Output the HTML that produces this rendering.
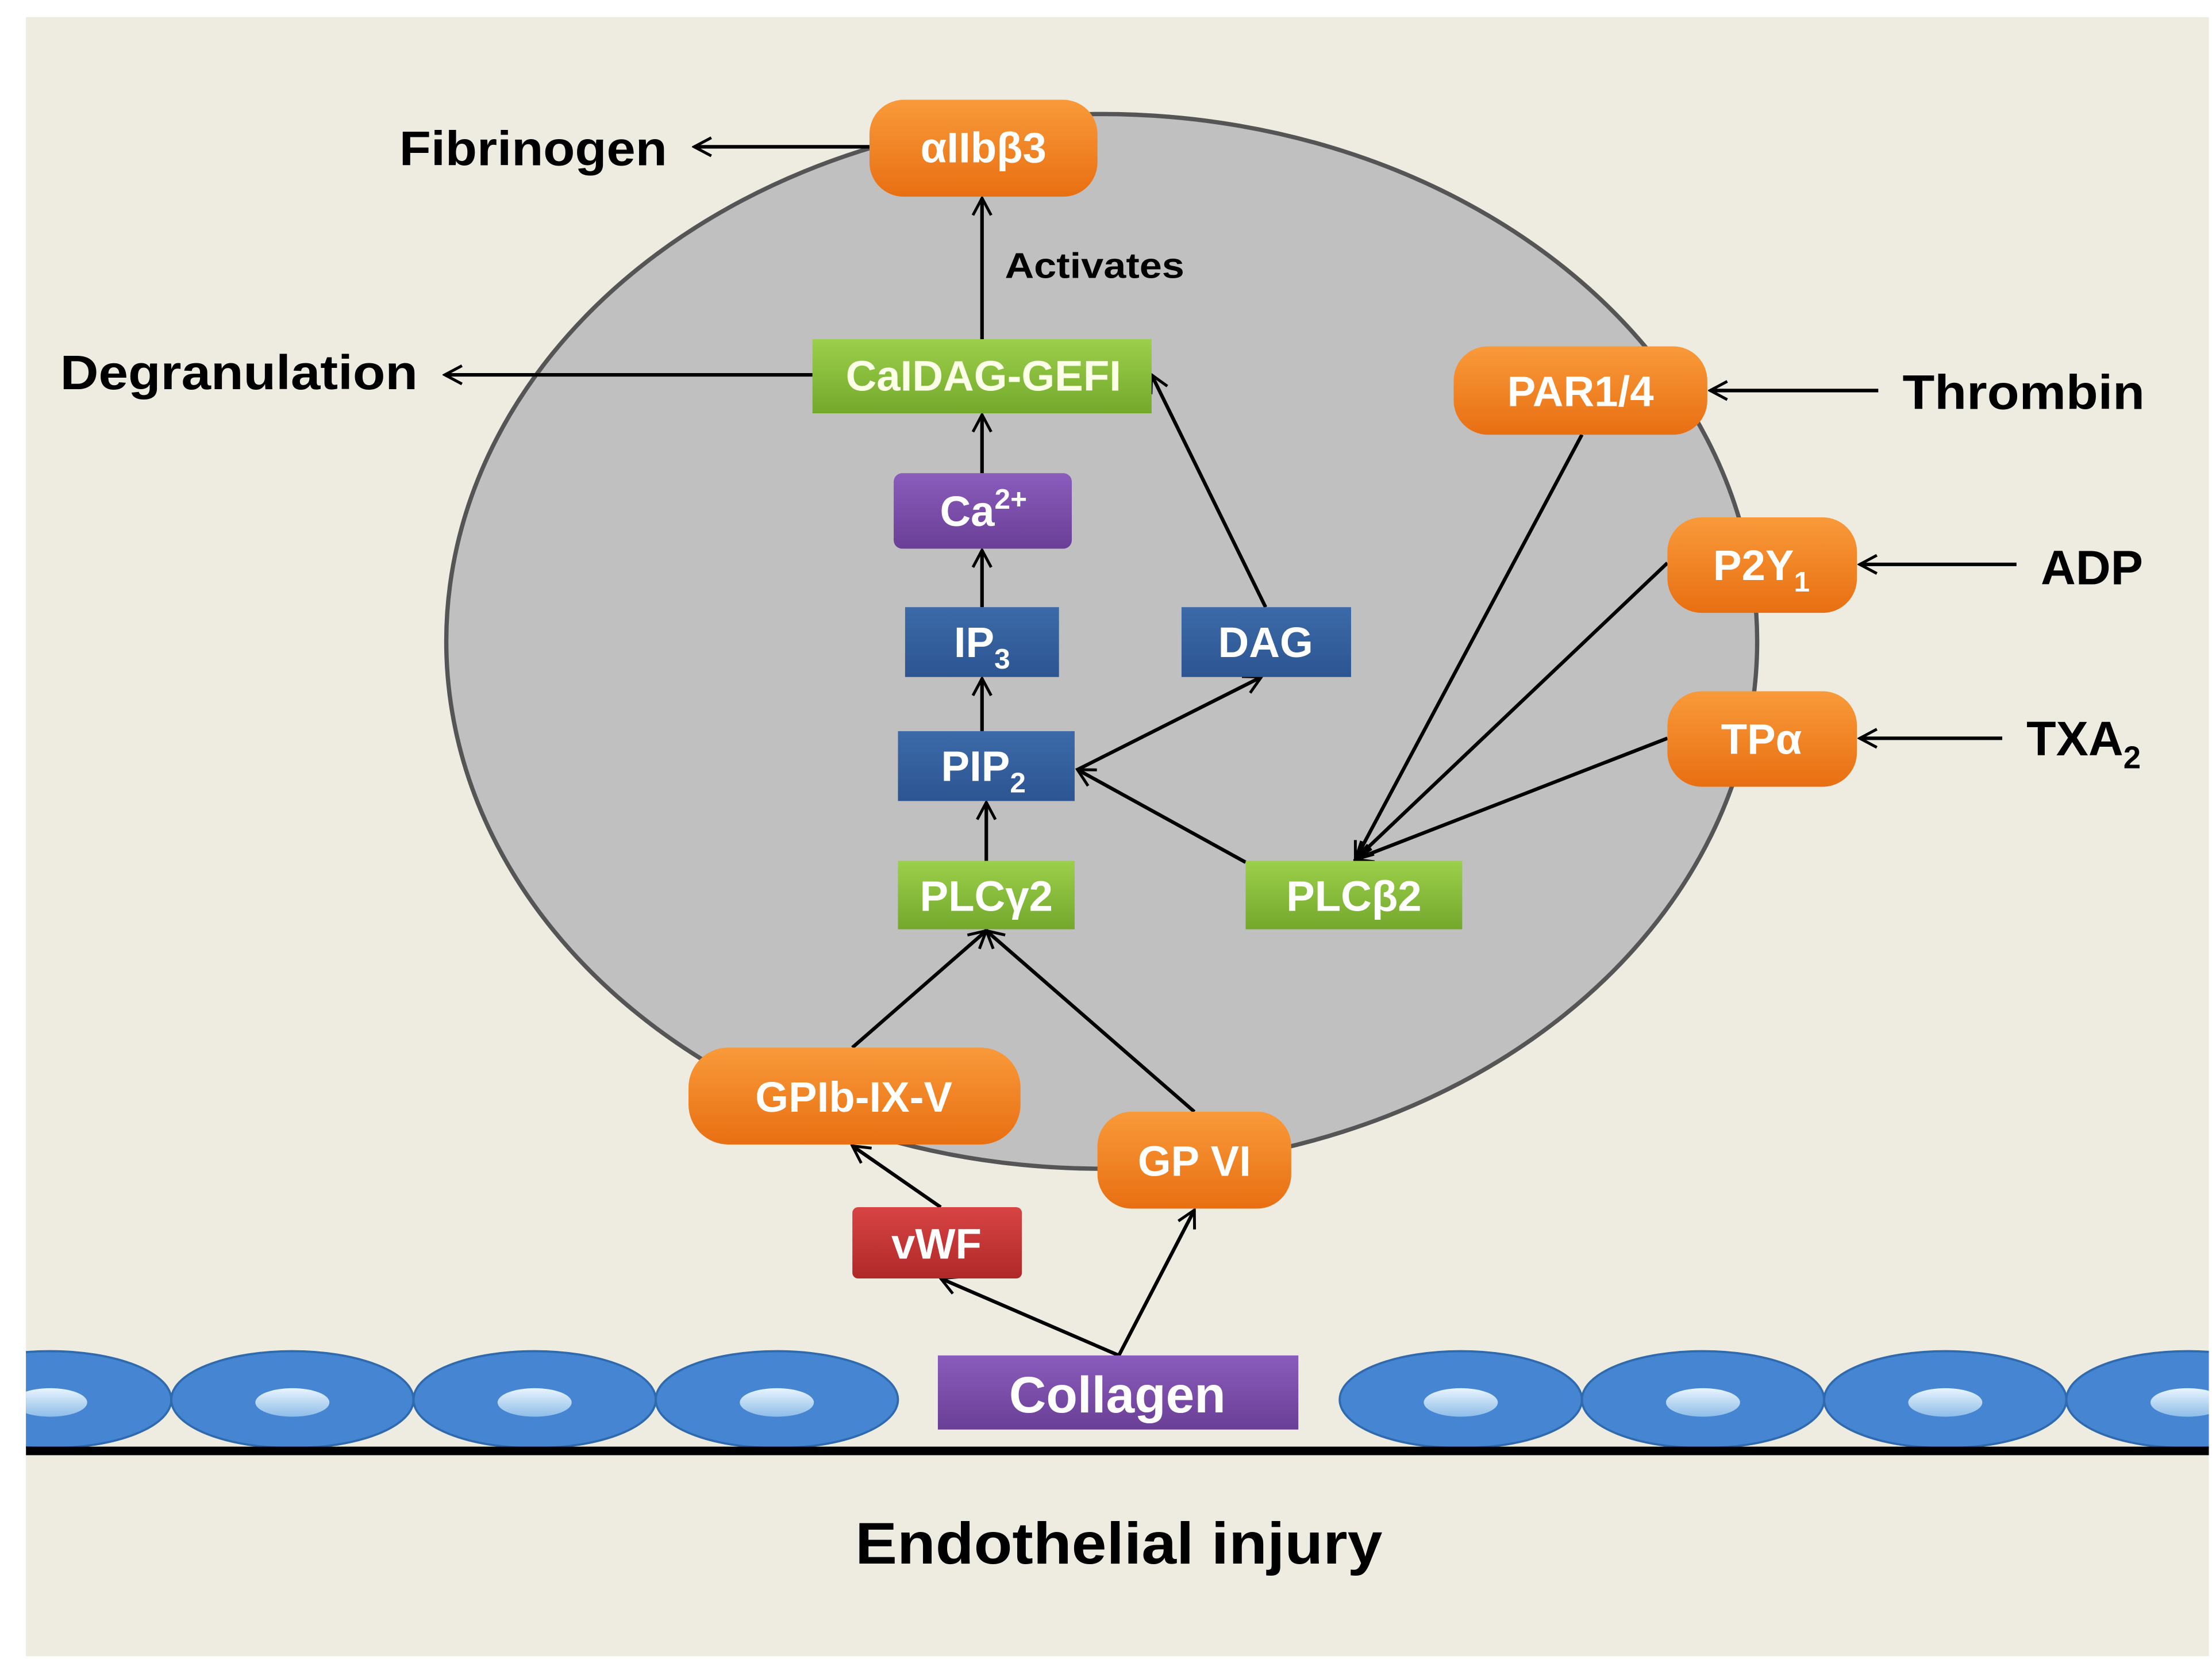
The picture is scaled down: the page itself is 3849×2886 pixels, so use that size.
<!DOCTYPE html>
<html><head><meta charset="utf-8"><style>
html,body{margin:0;padding:0;background:#fff}
svg{display:block}
text{font-family:"Liberation Sans",sans-serif;font-weight:bold}
</style></head><body>
<svg width="3849" height="2886" viewBox="0 0 1552 1164" xmlns="http://www.w3.org/2000/svg">
<defs>
<marker id="a" viewBox="0 0 20 20" refX="18" refY="10" markerWidth="16" markerHeight="16" markerUnits="userSpaceOnUse" orient="auto">
<path d="M3,2 L18,10 L3,18" fill="none" stroke="#000" stroke-width="2.5"/>
</marker>
<linearGradient id="or" x1="0" y1="0" x2="0" y2="1"><stop offset="0" stop-color="#f99a3a"/><stop offset="1" stop-color="#e86f12"/></linearGradient>
<linearGradient id="gr" x1="0" y1="0" x2="0" y2="1"><stop offset="0" stop-color="#9ccf4a"/><stop offset="1" stop-color="#73a82c"/></linearGradient>
<linearGradient id="pu" x1="0" y1="0" x2="0" y2="1"><stop offset="0" stop-color="#8a5cbc"/><stop offset="1" stop-color="#6a3f96"/></linearGradient>
<linearGradient id="bl" x1="0" y1="0" x2="0" y2="1"><stop offset="0" stop-color="#3c6aa8"/><stop offset="1" stop-color="#2c5592"/></linearGradient>
<linearGradient id="rd" x1="0" y1="0" x2="0" y2="1"><stop offset="0" stop-color="#d84444"/><stop offset="1" stop-color="#b02828"/></linearGradient>
<linearGradient id="hl" x1="0" y1="0" x2="0" y2="1"><stop offset="0" stop-color="#e8f4ff"/><stop offset="1" stop-color="#8fbde8"/></linearGradient>
<clipPath id="bg"><rect x="18" y="12" width="1532" height="1150"/></clipPath>
</defs>
<rect x="18" y="12" width="1532" height="1150" fill="#eeebe1"/>
<ellipse cx="773" cy="450" rx="460" ry="370" fill="#c0c0c0" stroke="#555" stroke-width="3"/>

<g clip-path="url(#bg)">
<g fill="#4585d2" stroke="#2f6aae" stroke-width="1.5">
<ellipse cx="35" cy="982" rx="85" ry="34"/><ellipse cx="205" cy="982" rx="85" ry="34"/><ellipse cx="375" cy="982" rx="85" ry="34"/><ellipse cx="545" cy="982" rx="85" ry="34"/>
<ellipse cx="1025" cy="982" rx="85" ry="34"/><ellipse cx="1195" cy="982" rx="85" ry="34"/><ellipse cx="1365" cy="982" rx="85" ry="34"/><ellipse cx="1535" cy="982" rx="85" ry="34"/>
</g>
<g fill="url(#hl)">
<ellipse cx="35" cy="984" rx="26" ry="10"/><ellipse cx="205" cy="984" rx="26" ry="10"/><ellipse cx="375" cy="984" rx="26" ry="10"/><ellipse cx="545" cy="984" rx="26" ry="10"/>
<ellipse cx="1025" cy="984" rx="26" ry="10"/><ellipse cx="1195" cy="984" rx="26" ry="10"/><ellipse cx="1365" cy="984" rx="26" ry="10"/><ellipse cx="1535" cy="984" rx="26" ry="10"/>
</g>
<rect x="18" y="1015" width="1532" height="6" fill="#000"/>
</g>

<g stroke="#000" stroke-width="2.5" fill="none" marker-end="url(#a)">
<line x1="610" y1="103" x2="487" y2="103"/>
<line x1="570" y1="263" x2="312" y2="263"/>
<line x1="689" y1="238" x2="689" y2="139"/>
<line x1="689" y1="332" x2="689" y2="291"/>
<line x1="689" y1="426" x2="689" y2="386"/>
<line x1="689" y1="513" x2="689" y2="476"/>
<line x1="692" y1="604" x2="692" y2="563"/>
<line x1="888" y1="426" x2="808" y2="263"/>
<line x1="756" y1="540" x2="885" y2="475"/>
<line x1="874" y1="605" x2="756" y2="540"/>
<line x1="1110" y1="305" x2="951" y2="603"/>
<line x1="1170" y1="395" x2="951" y2="603"/>
<line x1="1170" y1="518" x2="951" y2="603"/>
<line x1="598" y1="735" x2="692" y2="653"/>
<line x1="838" y1="780" x2="692" y2="653"/>
<line x1="660" y1="847" x2="598" y2="804"/>
<line x1="785" y1="951" x2="660" y2="897"/>
<line x1="785" y1="951" x2="838" y2="849"/>
<line x1="1318" y1="274" x2="1200" y2="274"/>
<line x1="1415" y1="396" x2="1305" y2="396"/>
<line x1="1405" y1="518" x2="1305" y2="518"/>
</g>

<g>
<rect x="610" y="70" width="160" height="68" rx="24" fill="url(#or)"/>
<rect x="1020" y="243" width="178" height="62" rx="24" fill="url(#or)"/>
<rect x="1170" y="363" width="133" height="67" rx="24" fill="url(#or)"/>
<rect x="1170" y="485" width="133" height="67" rx="24" fill="url(#or)"/>
<rect x="483" y="735" width="233" height="68" rx="28" fill="url(#or)"/>
<rect x="770" y="780" width="136" height="68" rx="24" fill="url(#or)"/>
<rect x="570" y="238" width="238" height="52" fill="url(#gr)"/>
<rect x="630" y="604" width="124" height="48" fill="url(#gr)"/>
<rect x="874" y="604" width="152" height="48" fill="url(#gr)"/>
<rect x="627" y="332" width="125" height="53" rx="6" fill="url(#pu)"/>
<rect x="658" y="951" width="253" height="52" fill="url(#pu)"/>
<rect x="635" y="426" width="108" height="49" fill="url(#bl)"/>
<rect x="829" y="426" width="119" height="49" fill="url(#bl)"/>
<rect x="630" y="513" width="124" height="49" fill="url(#bl)"/>
<rect x="598" y="847" width="119" height="50" rx="4" fill="url(#rd)"/>
</g>

<g fill="#fff" font-size="30" text-anchor="middle">
<text x="690" y="114">αIIbβ3</text>
<text x="690" y="274" fill="#fbffe8">CaIDAG-GEFI</text>
<text x="690" y="369">Ca<tspan font-size="20" dy="-12">2+</tspan></text>
<text x="689" y="461">IP<tspan font-size="20" dy="8">3</tspan></text>
<text x="888" y="461">DAG</text>
<text x="690" y="548">PIP<tspan font-size="20" dy="8">2</tspan></text>
<text x="692" y="639">PLCγ2</text>
<text x="950" y="639">PLCβ2</text>
<text x="1109" y="285">PAR1/4</text>
<text x="1236" y="407">P2Y<tspan font-size="20" dy="8">1</tspan></text>
<text x="1236" y="529">TPα</text>
<text x="599" y="780">GPIb-IX-V</text>
<text x="838" y="825">GP VI</text>
<text x="657" y="883">vWF</text>
<text x="784" y="991" font-size="36">Collagen</text>
</g>

<g fill="#000">
<text x="280" y="116" font-size="34" textLength="188" lengthAdjust="spacingAndGlyphs">Fibrinogen</text>
<text x="42" y="273" font-size="34" textLength="251" lengthAdjust="spacingAndGlyphs">Degranulation</text>
<text x="705" y="195" font-size="25" textLength="126" lengthAdjust="spacingAndGlyphs">Activates</text>
<text x="1335" y="287" font-size="34" textLength="170" lengthAdjust="spacingAndGlyphs">Thrombin</text>
<text x="1432" y="410" font-size="34">ADP</text>
<text x="1422" y="530" font-size="34">TXA<tspan font-size="22" dy="9">2</tspan></text>
<text x="600" y="1097" font-size="41" textLength="370" lengthAdjust="spacingAndGlyphs">Endothelial injury</text>
</g>
</svg>
</body></html>
